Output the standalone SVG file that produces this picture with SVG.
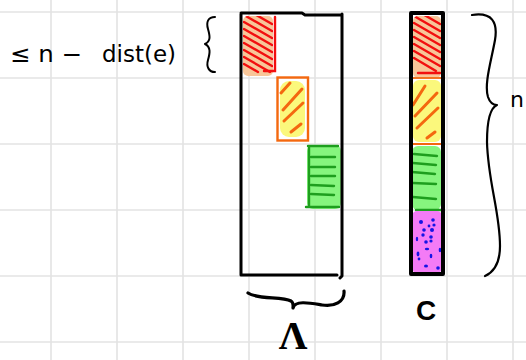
<svg xmlns="http://www.w3.org/2000/svg" width="526" height="360" viewBox="0 0 526 360">
  <style>
    .grid { stroke: #e3e3e3; stroke-width: 1.6; }
    .ink { fill: none; stroke: #000; stroke-linecap: round; stroke-linejoin: round; }
    .red { fill: none; stroke: #f20f0f; stroke-width: 2.4; stroke-linecap: round; }
    .orn { fill: none; stroke: #f4680f; stroke-width: 3; stroke-linecap: round; }
    .grn { fill: none; stroke: #1e9e1e; stroke-width: 2.4; stroke-linecap: round; }
    .peach { fill: #f8c699; }
    .yel { fill: #fbf87c; }
    .lgrn { fill: #86f57e; }
    .mag { fill: #f47bf6; }
    .dot { fill: #1414e6; }
    .hand { font-family: "DejaVu Sans", "Liberation Sans", sans-serif; fill: #000; }
  </style>
  <defs>
    <clipPath id="clipRedA"><rect x="243" y="16" width="30" height="60" rx="5"/></clipPath>
    <clipPath id="clipRedC"><rect x="413" y="16" width="28" height="56" rx="5"/></clipPath>
  </defs>

  <rect width="526" height="360" fill="#fff"/>

  <!-- squared paper -->
  <g id="grid" class="grid">
    <line x1="51" y1="0" x2="51" y2="360"/>
    <line x1="117" y1="0" x2="117" y2="360"/>
    <line x1="183" y1="0" x2="183" y2="360"/>
    <line x1="249" y1="0" x2="249" y2="360"/>
    <line x1="315" y1="0" x2="315" y2="360"/>
    <line x1="381" y1="0" x2="381" y2="360"/>
    <line x1="447" y1="0" x2="447" y2="360"/>
    <line x1="513" y1="0" x2="513" y2="360"/>
    <line x1="0" y1="12" x2="526" y2="12"/>
    <line x1="0" y1="78" x2="526" y2="78"/>
    <line x1="0" y1="144" x2="526" y2="144"/>
    <line x1="0" y1="210" x2="526" y2="210"/>
    <line x1="0" y1="276" x2="526" y2="276"/>
    <line x1="0" y1="342" x2="526" y2="342"/>
  </g>

  <!-- matrix Λ with its diagonal blocks -->
  <g id="lambda">
    <g id="lambda-red">
      <rect class="peach" x="243" y="16" width="30" height="60" rx="5"/>
      <g clip-path="url(#clipRedA)" class="red">
        <line x1="244" y1="8" x2="272" y2="24"/>
        <line x1="244" y1="15" x2="272" y2="31"/>
        <line x1="244" y1="22" x2="272" y2="38"/>
        <line x1="244" y1="29" x2="272" y2="45"/>
        <line x1="244" y1="36" x2="272" y2="52"/>
        <line x1="244" y1="43" x2="272" y2="59"/>
        <line x1="244" y1="50" x2="272" y2="66"/>
        <line x1="244" y1="57" x2="270" y2="72"/>
        <line x1="244" y1="64" x2="258" y2="72"/>
      </g>
      <path class="red" d="M275,17 V71 H264"/>
    </g>
    <g id="lambda-orange">
      <rect class="yel" x="280" y="81" width="25" height="56" rx="9"/>
      <rect x="277.5" y="77.5" width="30.5" height="63" fill="none" stroke="#f4680f" stroke-width="2.4"/>
      <line class="orn" x1="281" y1="93" x2="290" y2="83"/>
      <line class="orn" x1="283" y1="110" x2="302" y2="89"/>
      <line class="orn" x1="284" y1="121" x2="303" y2="103"/>
      <line class="orn" x1="291" y1="132" x2="301" y2="124"/>
    </g>
    <g id="lambda-green">
      <rect class="lgrn" x="307" y="145" width="34" height="64" rx="6"/>
      <path class="grn" d="M308,146 H338 M309,147 V206 M306,207 H339"/>
      <line class="grn" x1="311" y1="157" x2="335" y2="157"/>
      <line class="grn" x1="311" y1="167" x2="335" y2="167"/>
      <line class="grn" x1="311" y1="176" x2="335" y2="176"/>
      <line class="grn" x1="311" y1="185" x2="334" y2="186"/>
      <line class="grn" x1="311" y1="194" x2="334" y2="195"/>
    </g>
    <path class="ink" stroke-width="3" d="M241,14 V275 H337 M241,13 H302 L305,15 H342 M342,14 V276 L340,278"/>
  </g>

  <!-- column C -->
  <g id="column-c">
    <rect class="peach" x="413" y="16" width="28" height="62" rx="5"/>
    <g clip-path="url(#clipRedC)" class="red">
      <line x1="414" y1="9" x2="440" y2="24"/>
      <line x1="414" y1="16" x2="440" y2="31"/>
      <line x1="414" y1="23" x2="440" y2="38"/>
      <line x1="414" y1="30" x2="440" y2="45"/>
      <line x1="414" y1="37" x2="440" y2="52"/>
      <line x1="414" y1="44" x2="440" y2="59"/>
      <line x1="414" y1="51" x2="440" y2="66"/>
      <line x1="414" y1="58" x2="436" y2="71"/>
    </g>
    <line class="red" x1="418" y1="73" x2="440" y2="73"/>
    <line x1="413" y1="78" x2="441" y2="78" stroke="#f4680f" stroke-width="1.8"/>

    <rect class="yel" x="413" y="80" width="28" height="62" rx="6"/>
    <line class="orn" x1="413" y1="105" x2="425" y2="86"/>
    <line class="orn" x1="415" y1="116" x2="437" y2="93"/>
    <line class="orn" x1="417" y1="128" x2="438" y2="108"/>
    <line class="orn" x1="427" y1="138" x2="435" y2="132"/>
    <line x1="413" y1="144" x2="441" y2="144" stroke="#f4680f" stroke-width="2"/>

    <rect class="lgrn" x="412" y="146" width="29" height="64" rx="6"/>
    <line class="grn" x1="414" y1="154" x2="437" y2="156"/>
    <line class="grn" x1="413" y1="163" x2="436" y2="165"/>
    <line class="grn" x1="412" y1="172" x2="435" y2="174"/>
    <line class="grn" x1="413" y1="183" x2="436" y2="184"/>
    <line class="grn" x1="413" y1="197" x2="436" y2="199"/>
    <line class="grn" x1="416" y1="210" x2="441" y2="210"/>

    <rect class="mag" x="412" y="211" width="30" height="62" rx="5"/>
    <g class="dot">
      <ellipse cx="421" cy="222" rx="2" ry="2"/>
      <ellipse cx="433" cy="220" rx="1.8" ry="1.8"/>
      <ellipse cx="434" cy="225" rx="1.6" ry="1.6"/>
      <ellipse cx="424" cy="230" rx="1.8" ry="1.8"/>
      <ellipse cx="432" cy="230" rx="2" ry="2"/>
      <ellipse cx="423" cy="235" rx="1.7" ry="1.7"/>
      <ellipse cx="431" cy="237" rx="1.8" ry="1.8"/>
      <ellipse cx="417" cy="239" rx="1.2" ry="2.2"/>
      <ellipse cx="426" cy="242" rx="1.8" ry="1.8"/>
      <ellipse cx="431" cy="241" rx="1.6" ry="1.6"/>
      <ellipse cx="427" cy="249" rx="2.2" ry="1.3"/>
      <ellipse cx="440" cy="250" rx="1.3" ry="2.2"/>
      <ellipse cx="418" cy="254" rx="1.4" ry="2.4"/>
      <ellipse cx="431" cy="256" rx="1.3" ry="2.2"/>
      <ellipse cx="426" cy="266" rx="2" ry="1.6"/>
      <ellipse cx="438" cy="268" rx="1.8" ry="1.8"/>
      <ellipse cx="419" cy="259" rx="1.4" ry="1.4"/>
      <ellipse cx="429" cy="226" rx="1.4" ry="1.4"/>
    </g>
    <rect class="ink" stroke-width="4" x="411" y="13" width="32" height="261"/>
  </g>

  <!-- braces -->
  <g id="braces" class="ink">
    <path stroke-width="2" d="M215,17 C208,17 206,22 208,29 C210,36 211,41 205,44 C211,47 210,53 208,60 C206,67 209,72 215,72"/>
    <path stroke-width="2.2" d="M472,15 C492,12 498,22 495,40 C491,62 484,84 488,97 C490,103 494,105 497,105 C490,108 487,120 487,142 C488,182 500,212 500,246 C500,262 494,272 485,276"/>
    <path stroke-width="3.2" d="M248,293 C258,300 282,296 291,301 C294,303 293,306 293,308 C295,300 310,303 322,305 C334,307 345,302 344,291"/>
  </g>

  <!-- labels -->
  <g id="labels">
    <text class="hand" x="10" y="62" font-size="23" textLength="72" lengthAdjust="spacingAndGlyphs">≤ n −</text>
    <text class="hand" x="102" y="62" font-size="23" textLength="74" lengthAdjust="spacingAndGlyphs">dist(e)</text>
    <text class="hand" x="510" y="107" font-size="22">n</text>
    <text x="293" y="349" font-family="Liberation Serif, serif" font-weight="bold" font-size="40" text-anchor="middle">Λ</text>
    <text x="426" y="320" font-family="Liberation Sans, Arial, sans-serif" font-weight="bold" font-size="28" text-anchor="middle">C</text>
  </g>
</svg>
